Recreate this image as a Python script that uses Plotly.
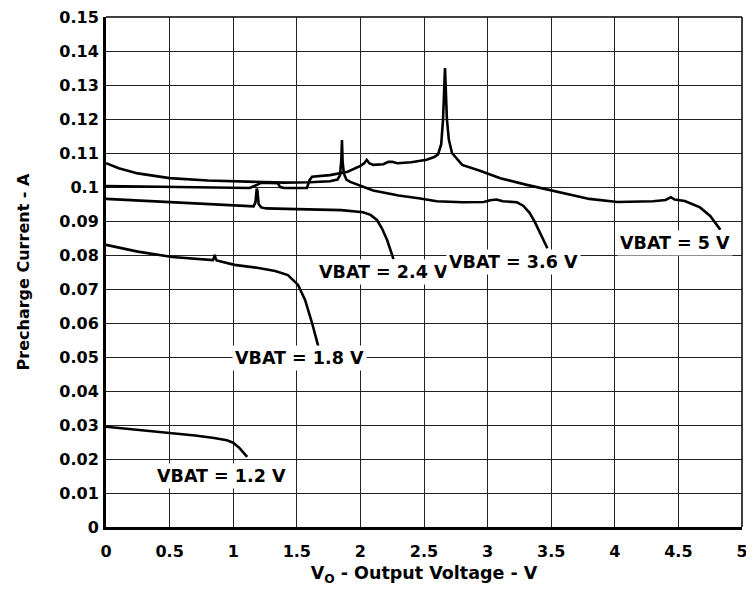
import plotly.graph_objects as go

# ---- data ----
x_12 = [0.0, 0.2, 0.4, 0.52, 0.7, 0.85, 0.95, 1.0, 1.05, 1.11]
y_12 = [0.0295, 0.0288, 0.0281, 0.0276, 0.0269, 0.0262, 0.0255, 0.0248, 0.0232, 0.0206]

x_18 = [0.0, 0.25, 0.52, 0.84, 0.85, 0.855, 0.86, 0.87, 1.01, 1.2, 1.33, 1.43, 1.51, 1.565, 1.62, 1.67]
y_18 = [0.0830, 0.0810, 0.0794, 0.0785, 0.0792, 0.0801, 0.0792, 0.0784, 0.0771, 0.0762, 0.0753, 0.0741, 0.0712, 0.0668, 0.0600, 0.0530]

x_24 = [0.0, 0.3, 0.6, 0.9, 1.16, 1.175, 1.185, 1.19, 1.2, 1.22, 1.26, 1.5, 1.85, 2.02, 2.08, 2.13, 2.17, 2.21, 2.26]
y_24 = [0.0965, 0.0959, 0.0953, 0.0948, 0.0943, 0.0955, 0.0995, 0.0990, 0.0950, 0.0940, 0.0937, 0.0935, 0.0932, 0.0926, 0.0918, 0.0903, 0.0878, 0.0844, 0.0788]

x_36 = [0.0, 0.1, 0.25, 0.5, 0.8, 1.13, 1.4, 1.6, 1.76, 1.82, 1.84, 1.85, 1.855, 1.86, 1.87, 1.89, 1.92, 2.1, 2.3, 2.47, 2.6, 2.8, 2.97, 3.02, 3.07, 3.12, 3.23, 3.28, 3.33, 3.37, 3.41, 3.47]
y_36 = [0.1070, 0.1055, 0.1040, 0.1026, 0.1019, 0.1015, 0.1013, 0.1014, 0.1017, 0.1022, 0.1035, 0.1080, 0.1138, 0.1075, 0.1040, 0.1022, 0.1015, 0.0990, 0.0975, 0.0966, 0.0958, 0.0955, 0.0956, 0.0961, 0.0963, 0.0958, 0.0955, 0.0945, 0.0924, 0.0898, 0.0865, 0.0820]

x_50 = [0.0, 0.5, 1.13, 1.18, 1.22, 1.35, 1.37, 1.4, 1.58, 1.6, 1.62, 1.76, 1.9, 2.0, 2.03, 2.05, 2.07, 2.1, 2.18, 2.22, 2.25, 2.29, 2.4, 2.52, 2.58, 2.61, 2.635, 2.65, 2.665, 2.68, 2.695, 2.72, 2.8, 2.94, 3.1, 3.3, 3.55, 3.8, 4.02, 4.3, 4.4, 4.44, 4.47, 4.55, 4.67, 4.75, 4.83]
y_50 = [0.1003, 0.1000, 0.0997, 0.1005, 0.1013, 0.1011, 0.1000, 0.0997, 0.0997, 0.1020, 0.1030, 0.1035, 0.1045, 0.1062, 0.1070, 0.1080, 0.1070, 0.1065, 0.1067, 0.1074, 0.1074, 0.1070, 0.1073, 0.1080, 0.1088, 0.1096, 0.1125, 0.1200, 0.1350, 0.1200, 0.1140, 0.1100, 0.1065, 0.1048, 0.1026, 0.1007, 0.0985, 0.0965, 0.0956, 0.0958, 0.0962, 0.0970, 0.0963, 0.0959, 0.0940, 0.0915, 0.0874]

series = [
    (x_12, y_12), (x_18, y_18), (x_24, y_24), (x_36, y_36), (x_50, y_50),
]

label_text = ["VBAT = 1.2 V", "VBAT = 1.8 V", "VBAT = 2.4 V", "VBAT = 3.6 V", "VBAT = 5 V"]
label_x = [0.91, 1.525, 2.18, 3.2, 4.47]
label_y = [0.0150, 0.0497, 0.0750, 0.0780, 0.0835]

x_ticks = [0, 0.5, 1, 1.5, 2, 2.5, 3, 3.5, 4, 4.5, 5]
x_tick_text = ["0", "0.5", "1", "1.5", "2", "2.5", "3", "3.5", "4", "4.5", "5"]
y_ticks = [0, 0.01, 0.02, 0.03, 0.04, 0.05, 0.06, 0.07, 0.08, 0.09, 0.1,
           0.11, 0.12, 0.13, 0.14, 0.15]
y_tick_text = ["0", "0.01", "0.02", "0.03", "0.04", "0.05", "0.06", "0.07", "0.08",
               "0.09", "0.1", "0.11", "0.12", "0.13", "0.14", "0.15"]

FONT = "DejaVu Sans, Arial, sans-serif"

fig = go.Figure()
for xs, ys in series:
    fig.add_trace(go.Scatter(x=xs, y=ys, mode="lines",
                             line=dict(color="black", width=2.6),
                             showlegend=False, hoverinfo="skip"))

for t, lx, ly in zip(label_text, label_x, label_y):
    fig.add_annotation(x=lx, y=ly, text=t, showarrow=False,
                       font=dict(family=FONT, size=17.5, color="black", weight="bold"),
                       bgcolor="white", borderpad=2)

fig.update_xaxes(range=[0, 5], tickvals=x_ticks, ticktext=x_tick_text,
                 showgrid=True, gridcolor="#222", gridwidth=1,
                 showline=True, linecolor="black", linewidth=3,
                 zeroline=False, ticks="", ticklabelstandoff=8,
                 ticklabeloverflow="allow", automargin="bottom",
                 tickfont=dict(family=FONT, size=16, color="black", weight="bold"),
                 title=dict(text="V<sub>O</sub> - Output Voltage - V", standoff=7,
                            font=dict(family=FONT, size=17.5, color="black", weight="bold")))
fig.update_yaxes(range=[0, 0.15], tickvals=y_ticks, ticktext=y_tick_text,
                 showgrid=True, gridcolor="#222", gridwidth=1,
                 showline=True, linecolor="black", linewidth=3,
                 zeroline=False, ticks="", ticklabelstandoff=1,
                 ticklabeloverflow="allow", automargin="left",
                 tickfont=dict(family=FONT, size=16, color="black", weight="bold"),
                 title=dict(text="Precharge Current - A", standoff=26,
                            font=dict(family=FONT, size=16, color="black", weight="bold")))

fig.add_shape(type="line", xref="paper", yref="paper", x0=0, x1=1, y0=1, y1=1,
              line=dict(color="black", width=1.5))
fig.add_shape(type="line", xref="paper", yref="paper", x0=1, x1=1, y0=0, y1=1,
              line=dict(color="black", width=1.5))

fig.update_layout(width=754, height=592,
                  margin=dict(l=98, r=20, t=9, b=73),
                  plot_bgcolor="white", paper_bgcolor="white")

fig.write_html("out.html")
